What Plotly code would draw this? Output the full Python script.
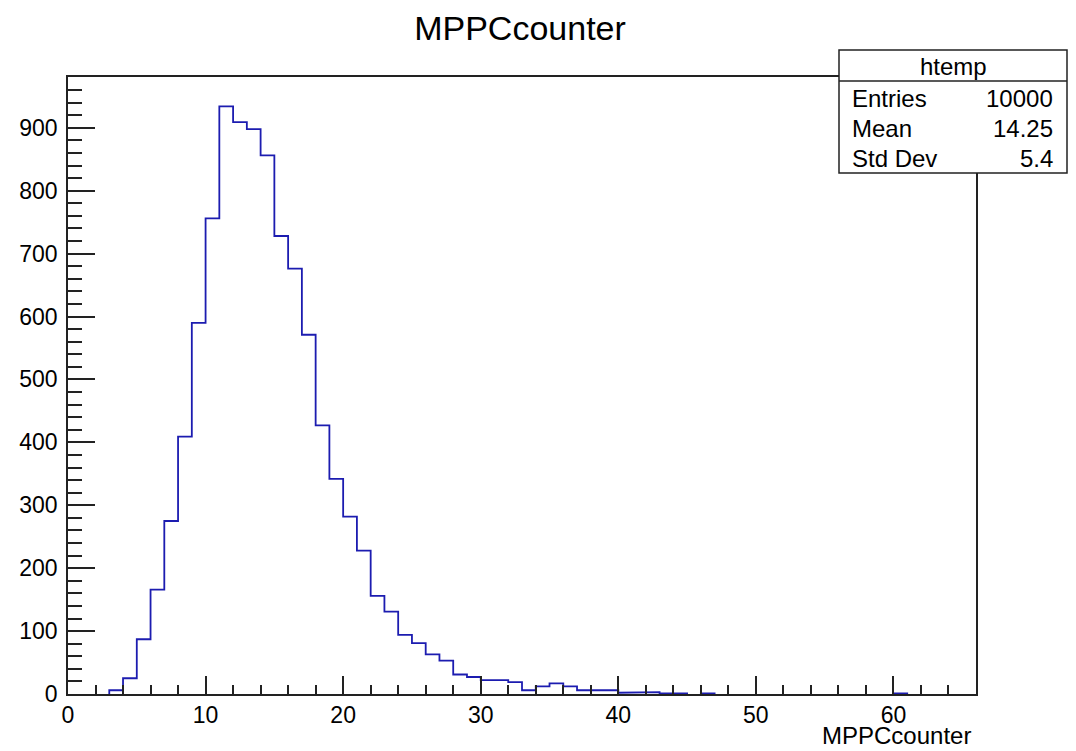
import plotly.graph_objects as go

# ---- data ----
bin_low = list(range(0, 66))
counts = [0, 0, 0, 6, 25, 87, 166, 275, 409, 590,
          756, 934, 909, 898, 856, 728, 676, 571, 427, 342,
          282, 228, 156, 131, 94, 81, 63, 53, 31, 27,
          22, 22, 19, 6, 12, 17, 12, 6, 6, 6,
          2, 2, 3, 1, 1, 0, 1, 0, 0, 0,
          0, 0, 0, 0, 0, 0, 0, 0, 0, 0,
          1, 0, 0, 0, 0, 0]
hist_name = "htemp"
var_name = "MPPCcounter"
stat_labels = ["Entries", "Mean", "Std Dev"]
stat_values = ["10000", "14.25", "5.4"]
x_ticks = [0, 10, 20, 30, 40, 50, 60]
y_ticks = [0, 100, 200, 300, 400, 500, 600, 700, 800, 900]

FONT = "Liberation Sans, Arial, Helvetica, sans-serif"
W, H = 1076, 751
L, R, T, B = 68, 976, 77, 694  # frame in pixels

def px(x):
    return (x - L) / (R - L)

def py(y):
    return (B - y) / (B - T)

# step outline, broken where runs of empty bins sit on the axis
xs, ys = [], []
cur = []
for lo, c in zip(bin_low, counts):
    hi = lo + 1
    if c > 0:
        if not cur:
            cur = [(lo, 0)]
        cur += [(lo, c), (hi, c)]
    else:
        if cur:
            cur.append((lo, 0))
            for a, b in cur:
                xs.append(a); ys.append(b)
            xs.append(None); ys.append(None)
            cur = []
if cur:
    cur.append((cur[-1][0], 0))
    for a, b in cur:
        xs.append(a); ys.append(b)

fig = go.Figure()
fig.add_trace(go.Scatter(x=xs, y=ys, mode="lines",
                         line=dict(color="#1c1cb0", width=1.8),
                         connectgaps=False,
                         hoverinfo="skip", showlegend=False))

ymax = max(counts) * 1.05
TICKF = 23

fig.update_layout(
    width=W, height=H, autosize=False,
    margin=dict(l=L, r=W - R, t=T, b=H - B, pad=0),
    paper_bgcolor="white", plot_bgcolor="white",
    font=dict(family=FONT, color="black", size=TICKF),
    title=dict(text=var_name, x=520 / W, xanchor="center",
               y=1 - 28 / H, yanchor="middle", yref="container",
               font=dict(size=34, family=FONT, color="black")),
    xaxis=dict(range=[0, len(bin_low)], showgrid=False, zeroline=False,
               showline=True, linecolor="#222", linewidth=1.5, mirror=True,
               ticks="inside", ticklen=18, tickwidth=1.5, tickcolor="#222",
               tickvals=x_ticks, ticktext=[str(v) for v in x_ticks],
               minor=dict(ticks="inside", ticklen=9, dtick=2, tick0=0,
                          tickwidth=1.5, tickcolor="#222", showgrid=False),
               tickfont=dict(size=TICKF), layer="above traces", fixedrange=True),
    yaxis=dict(range=[0, ymax], showgrid=False, zeroline=False,
               showline=True, linecolor="#222", linewidth=1.5, mirror=True,
               ticks="inside", ticklen=27, tickwidth=1.5, tickcolor="#222",
               tickvals=y_ticks, ticktext=[str(v) for v in y_ticks],
               minor=dict(ticks="inside", ticklen=14, dtick=20, tick0=0,
                          tickwidth=1.5, tickcolor="#222", showgrid=False),
               tickfont=dict(size=TICKF), ticklabelstandoff=4,
               layer="above traces", fixedrange=True),
)

# x-axis title at bottom right (ROOT style)
fig.add_annotation(text=var_name, xref="paper", yref="paper",
                   x=px(973), y=py(736), xanchor="right", yanchor="middle",
                   showarrow=False, font=dict(size=24, family=FONT))

# stats box
bx0, bx1, by0, by1 = 839, 1067, 50, 173
fig.add_shape(type="rect", xref="paper", yref="paper",
              x0=px(bx0), x1=px(bx1), y0=py(by1), y1=py(by0),
              line=dict(color="#222", width=1.5), fillcolor="white", layer="above")
fig.add_shape(type="line", xref="paper", yref="paper",
              x0=px(bx0), x1=px(bx1), y0=py(81), y1=py(81),
              line=dict(color="#222", width=1.5), layer="above")
fig.add_annotation(text=hist_name, xref="paper", yref="paper",
                   x=px((bx0 + bx1) / 2), y=py(66), xanchor="center", yanchor="middle",
                   showarrow=False, font=dict(size=24, family=FONT))
row_y = [98, 128, 158]
for lab, val, yy in zip(stat_labels, stat_values, row_y):
    fig.add_annotation(text=lab, xref="paper", yref="paper",
                       x=px(850), y=py(yy), xanchor="left", yanchor="middle",
                       showarrow=False, font=dict(size=24, family=FONT))
    fig.add_annotation(text=val, xref="paper", yref="paper",
                       x=px(1055), y=py(yy), xanchor="right", yanchor="middle",
                       showarrow=False, font=dict(size=24, family=FONT))

fig.write_html("out.html", config={"displayModeBar": False})

# remove the default page margin so the figure sits at the window's corner
with open("out.html", "r", encoding="utf-8") as f:
    html = f.read()
html = html.replace("<head>", "<head><style>html,body{margin:0;padding:0;overflow:hidden;}</style>", 1)
with open("out.html", "w", encoding="utf-8") as f:
    f.write(html)
